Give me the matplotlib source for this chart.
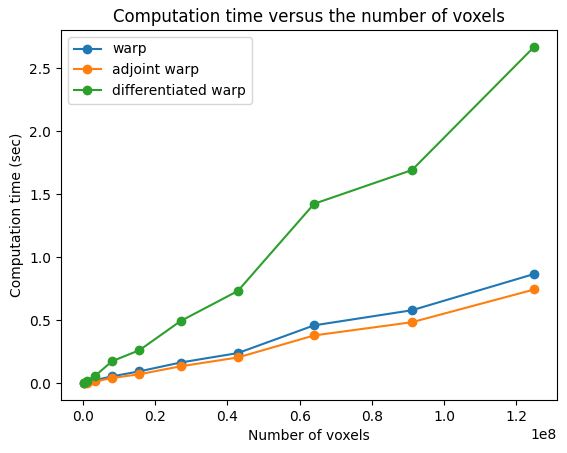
import matplotlib
matplotlib.use("Agg")
import matplotlib.pyplot as plt

voxels = [50**3, 100**3, 150**3, 200**3, 250**3, 300**3, 350**3, 400**3, 450**3, 500**3]
warp = [0.002, 0.01, 0.025, 0.055, 0.095, 0.165, 0.24, 0.46, 0.58, 0.868]
adjoint = [0.001, 0.005, 0.015, 0.042, 0.072, 0.135, 0.205, 0.38, 0.485, 0.745]
diff = [0.004, 0.02, 0.06, 0.175, 0.263, 0.494, 0.733, 1.425, 1.693, 2.672]

fig, ax = plt.subplots(figsize=(5.67, 4.53), dpi=100)
ax.plot(voxels, warp, marker="o", label="warp")
ax.plot(voxels, adjoint, marker="o", label="adjoint warp")
ax.plot(voxels, diff, marker="o", label="differentiated warp")
ax.set_title("Computation time versus the number of voxels")
ax.set_xlabel("Number of voxels")
ax.set_ylabel("Computation time (sec)")
ax.legend(loc="upper left")
fig.subplots_adjust(left=0.1076, right=0.982, top=0.934, bottom=0.117)
fig.savefig("out.png")
